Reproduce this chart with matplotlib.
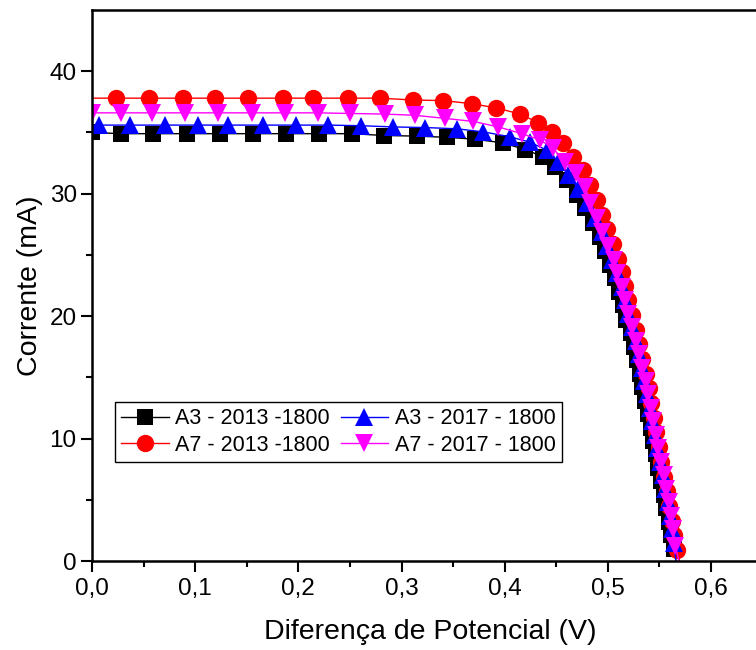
import matplotlib
matplotlib.use("Agg")
import matplotlib.pyplot as plt

plt.rcParams['font.family'] = ['Liberation Sans', 'DejaVu Sans']

labels = ["A3 - 2013 -1800", "A7 - 2013 -1800", "A3 - 2017 - 1800", "A7 - 2017 - 1800"]

black_v = [0.000, 0.028, 0.059, 0.092, 0.124, 0.156, 0.188, 0.220, 0.252, 0.283, 0.315, 0.344,
           0.371, 0.398, 0.420, 0.4375, 0.449, 0.460, 0.470, 0.478, 0.486, 0.4925, 0.497, 0.502,
           0.507, 0.511, 0.515, 0.518, 0.522, 0.5255, 0.528, 0.531, 0.5335, 0.536, 0.539, 0.5415,
           0.544, 0.5465, 0.549, 0.5515, 0.554, 0.5565, 0.559, 0.5615, 0.564, 0.566]
black_i = [35.0, 34.9, 34.9, 34.9, 34.9, 34.9, 34.9, 34.9, 34.9, 34.75, 34.7, 34.6,
           34.45, 34.15, 33.6, 33.0, 32.2, 31.1, 29.9, 28.8, 27.6, 26.5, 25.3, 24.2,
           23.1, 22.0, 20.9, 19.7, 18.6, 17.5, 16.4, 15.3, 14.2, 13.1, 12.0, 10.9,
           9.8, 8.7, 7.6, 6.5, 5.4, 4.3, 3.2, 2.1, 1.0, 0.0]

red_v = [0.000, 0.023, 0.055, 0.0885, 0.119, 0.1515, 0.185, 0.2145, 0.248, 0.279, 0.311, 0.3405,
         0.368, 0.392, 0.415, 0.4325, 0.4455, 0.457, 0.4665, 0.476, 0.4825, 0.489, 0.494, 0.499,
         0.505, 0.510, 0.5135, 0.5165, 0.520, 0.5235, 0.527, 0.5305, 0.5335, 0.5365, 0.5395, 0.542,
         0.5445, 0.547, 0.5495, 0.552, 0.5545, 0.557, 0.5595, 0.562, 0.5645, 0.567, 0.5695]
red_i = [37.8, 37.8, 37.8, 37.8, 37.8, 37.8, 37.8, 37.8, 37.8, 37.8, 37.65, 37.6,
         37.35, 37.0, 36.5, 35.8, 35.05, 34.1, 33.0, 31.9, 30.7, 29.5, 28.25, 27.15,
         25.9, 24.7, 23.6, 22.5, 21.3, 20.1, 18.9, 17.7, 16.5, 15.3, 14.1, 12.9,
         11.7, 10.5, 9.3, 8.1, 6.9, 5.7, 4.5, 3.3, 2.1, 0.9, 0.0]

blue_v = [0.000, 0.007, 0.037, 0.071, 0.103, 0.132, 0.166, 0.198, 0.229, 0.261, 0.292, 0.323,
          0.3535, 0.379, 0.405, 0.4245, 0.441, 0.452, 0.4615, 0.4715, 0.4795, 0.4875, 0.494, 0.499,
          0.504, 0.5085, 0.5135, 0.5165, 0.520, 0.5235, 0.527, 0.530, 0.533, 0.5355, 0.538, 0.5405,
          0.543, 0.5455, 0.548, 0.5505, 0.553, 0.5555, 0.558, 0.560, 0.562, 0.564, 0.566]
blue_i = [35.6, 35.6, 35.6, 35.6, 35.6, 35.6, 35.6, 35.6, 35.6, 35.55, 35.45, 35.4,
          35.3, 35.05, 34.65, 34.2, 33.55, 32.6, 31.5, 30.4, 29.2, 28.0, 26.9, 25.7,
          24.6, 23.5, 22.4, 21.3, 20.2, 19.1, 18.0, 16.9, 15.8, 14.7, 13.6, 12.5,
          11.4, 10.3, 9.2, 8.1, 7.0, 5.9, 4.8, 3.7, 2.6, 1.5, 0.0]

mag_v = [0.000, 0.028, 0.058, 0.090, 0.1225, 0.155, 0.187, 0.219, 0.250, 0.284, 0.313, 0.342,
         0.3695, 0.394, 0.4165, 0.434, 0.447, 0.4585, 0.4695, 0.478, 0.483, 0.489, 0.494, 0.5005,
         0.5055, 0.5085, 0.5135, 0.5165, 0.520, 0.5235, 0.527, 0.5305, 0.5335, 0.5365, 0.539, 0.5415,
         0.544, 0.5465, 0.549, 0.5515, 0.554, 0.5565, 0.559, 0.5615, 0.5635, 0.5655, 0.569]
mag_i = [36.6, 36.6, 36.6, 36.6, 36.6, 36.6, 36.6, 36.6, 36.55, 36.5, 36.4, 36.15,
         35.9, 35.45, 34.9, 34.4, 33.7, 32.6, 31.65, 30.55, 29.2, 28.0, 26.9, 25.7,
         24.6, 23.5, 22.4, 21.3, 20.2, 19.1, 18.0, 16.9, 15.8, 14.7, 13.6, 12.5,
         11.4, 10.3, 9.2, 8.1, 7.0, 5.9, 4.8, 3.7, 2.6, 1.2, 0.0]

x_ticks = [0.0, 0.1, 0.2, 0.3, 0.4, 0.5, 0.6]
x_ticklabels = ["0,0", "0,1", "0,2", "0,3", "0,4", "0,5", "0,6"]
y_ticks = [0, 10, 20, 30, 40]

fig = plt.figure(figsize=(7.56, 6.5), dpi=100)
ax = fig.add_axes([92 / 756, 89 / 650, 0.7 * 1031.7 / 756, 551 / 650])

series = [
    (black_v, black_i, '#000000', 's', 11.5, slice(0, -1)),
    (red_v, red_i, '#FF0000', 'o', 12.5, slice(1, -1)),
    (blue_v, blue_i, '#0000FF', '^', 12.5, slice(1, -1)),
    (mag_v, mag_i, '#FF00FF', 'v', 12.5, slice(0, -1)),
]
for (v, i, c, m, ms, me), lab in zip(series, labels):
    ax.plot(v, i, color=c, marker=m, markersize=ms, markevery=me, lw=1.0,
            markeredgewidth=0, label=lab)

ax.set_xlim(0, 0.7)
ax.set_ylim(0, 45)
ax.set_xticks(x_ticks)
ax.set_xticklabels(x_ticklabels)
ax.set_yticks(y_ticks)
ax.set_xticks([0.05, 0.15, 0.25, 0.35, 0.45, 0.55, 0.65], minor=True)
ax.set_yticks([5, 15, 25, 35], minor=True)
ax.tick_params(which='major', direction='out', length=8, width=1.5, labelsize=17.5, pad=4)
ax.tick_params(axis='y', which='major', pad=3)
ax.tick_params(which='minor', direction='out', length=4.5, width=1.5)
for s in ax.spines.values():
    s.set_linewidth(1.8)

ax.set_xlabel("Diferença de Potencial (V)", fontsize=20.5)
ax.set_ylabel("Corrente (mA)", fontsize=20.5)
ax.xaxis.set_label_coords(0.468, -0.105)
ax.yaxis.set_label_coords(-0.068, 0.5)

leg = ax.legend(ncol=2, loc='upper left', bbox_to_anchor=(115 / 756, 1 - 402 / 650),
                bbox_transform=fig.transFigure, borderaxespad=0, fontsize=15.5,
                fancybox=False, framealpha=1, edgecolor='black', handlelength=2.2,
                columnspacing=0.5, handletextpad=0.3, borderpad=0.3, labelspacing=0.25)
leg.get_frame().set_linewidth(1.0)

fig.savefig("out.png", dpi=100)
